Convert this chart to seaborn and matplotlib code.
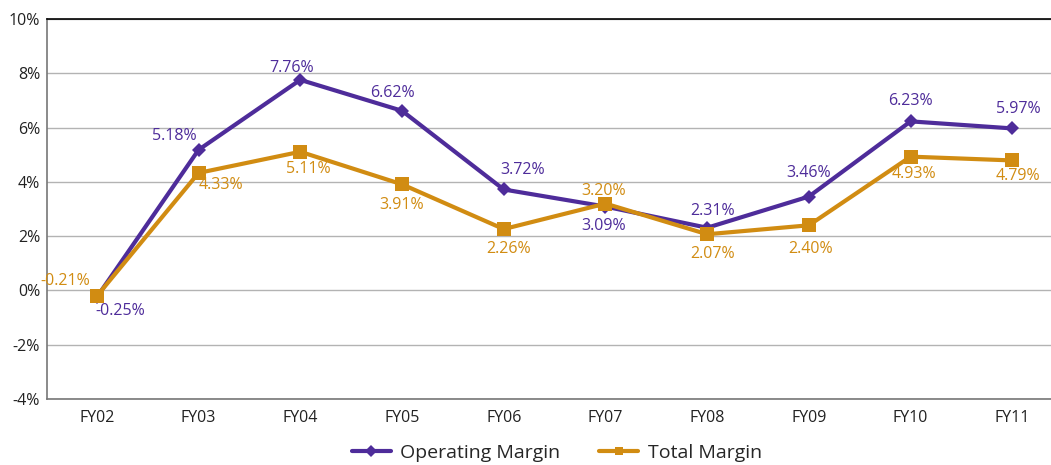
import pandas as pd
import matplotlib.pyplot as plt
import seaborn as sns

years = ["FY02", "FY03", "FY04", "FY05", "FY06", "FY07", "FY08", "FY09", "FY10", "FY11"]
operating = [-0.25, 5.18, 7.76, 6.62, 3.72, 3.09, 2.31, 3.46, 6.23, 5.97]
total = [-0.21, 4.33, 5.11, 3.91, 2.26, 3.20, 2.07, 2.40, 4.93, 4.79]

# label offsets (pixels) for each point
op_off = [(23, -14), (-24, 14), (-9, 12), (-10, 18), (19, 19), (-2, -19), (5, 17), (0, 24), (0, 20), (6, 19)]
tot_off = [(-32, 15), (22, -12), (8, -17), (0, -21), (5, -20), (-2, 13), (5, -20), (2, -24), (3, -17), (6, -16)]

purple = "#4e2c9a"
gold = "#d18c12"

df = pd.DataFrame({
    "Year": years * 2,
    "Margin": operating + total,
    "Series": ["Operating Margin"] * len(years) + ["Total Margin"] * len(years),
})

sns.set_style("white")
plt.rcParams["font.family"] = ["Open Sans", "DejaVu Sans"]

fig = plt.figure(figsize=(10.51, 4.65), dpi=100)
ax = fig.add_axes([0.0447, 0.142, 0.9553, 0.817])

sns.lineplot(data=df, x="Year", y="Margin", hue="Series", style="Series",
             markers={"Operating Margin": "D", "Total Margin": "s"}, dashes=False,
             palette={"Operating Margin": purple, "Total Margin": gold},
             linewidth=3, markeredgewidth=0, ax=ax, sort=False)
for line, ms in zip(ax.lines[:2], [7, 10]):
    line.set_markersize(ms)

for i, (v, off) in enumerate(zip(operating, op_off)):
    ax.annotate(f"{v:.2f}%", (i, v), xytext=off, textcoords="offset pixels",
                ha="center", va="center", color=purple, fontsize=11.5)
for i, (v, off) in enumerate(zip(total, tot_off)):
    ax.annotate(f"{v:.2f}%", (i, v), xytext=off, textcoords="offset pixels",
                ha="center", va="center", color=gold, fontsize=11.5)

ax.set_ylim(-4, 10)
ax.set_xlim(-0.49, 9.38)
ax.set_yticks(range(-4, 11, 2))
ax.set_yticklabels([f"{t}%" for t in range(-4, 11, 2)])
ax.yaxis.grid(True, color="#b3b3b3", linewidth=1)
ax.set_axisbelow(True)
ax.set_xlabel("")
ax.set_ylabel("")
ax.tick_params(axis="both", labelsize=11.5, colors="#222222", length=0)
ax.tick_params(axis="y", pad=5)
ax.tick_params(axis="x", pad=8)

ax.spines["top"].set_color("black")
ax.spines["top"].set_linewidth(1.2)
ax.spines["left"].set_color("#777777")
ax.spines["bottom"].set_color("#777777")
ax.spines["left"].set_linewidth(1.2)
ax.spines["bottom"].set_linewidth(1.2)
ax.spines["right"].set_visible(False)

handles, labels = ax.get_legend_handles_labels()
ax.get_legend().remove()
fig.legend(handles, labels, loc="lower center", bbox_to_anchor=(0.53, -0.02), ncol=2,
           frameon=False, fontsize=14, handlelength=2.0, columnspacing=2.0,
           handletextpad=0.5, borderpad=0.15)

fig.savefig("out.png", dpi=100)
